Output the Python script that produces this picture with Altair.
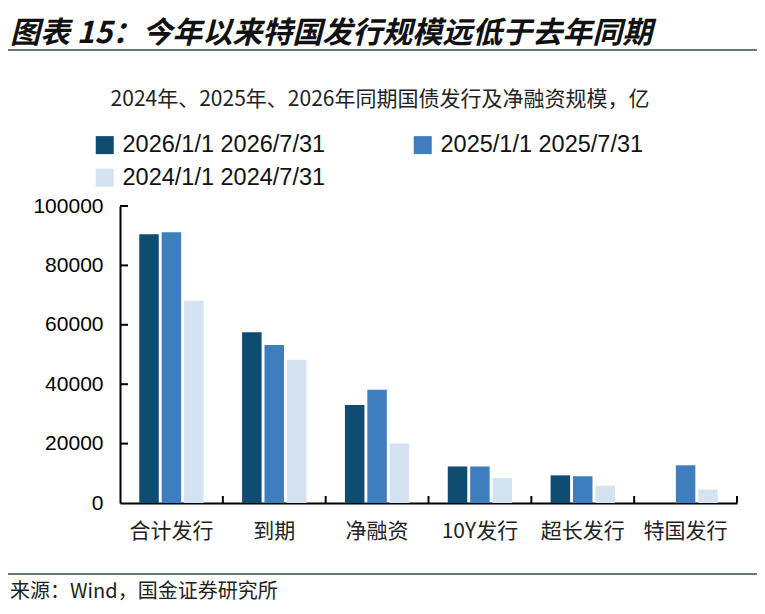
import altair as alt
import pandas as pd

categories = ["合计发行", "到期", "净融资", "10Y发行", "超长发行", "特国发行"]
series = ["2026/1/1 2026/7/31", "2025/1/1 2025/7/31", "2024/1/1 2024/7/31"]
values_2026 = [90500, 57500, 33000, 12300, 9300, 0]
values_2025 = [91200, 53200, 38100, 12300, 9000, 12700]
values_2024 = [68100, 48200, 20000, 8400, 5800, 4500]
y_ticks = [20000, 40000, 60000, 80000, 100000]
colors = ["#0f4c71", "#3e7ebf", "#d3e3f2"]

title_text = "图表 15：今年以来特国发行规模远低于去年同期"
subtitle_text = "2024年、2025年、2026年同期国债发行及净融资规模，亿"
source_text = "来源：Wind，国金证券研究所"

rows = []
for s, vals in zip(series, [values_2026, values_2025, values_2024]):
    for c, v in zip(categories, vals):
        rows.append({"cat": c, "series": s, "value": v})
df = pd.DataFrame(rows)

W, H = 617, 297
CJK = "Noto Sans CJK SC"
LAT = "Liberation Sans"

x_scale = alt.Scale(domain=categories, paddingInner=0, paddingOuter=0)
y_scale = alt.Scale(domain=[0, 100000], nice=False)

bars = alt.Chart(df).mark_bar().encode(
    x=alt.X("cat:N", sort=categories, scale=x_scale,
            axis=alt.Axis(title=None, labelAngle=0, labelFont=CJK, labelFontSize=21,
                          labelColor="#222222", domainColor="black", domainWidth=2,
                          ticks=False, tickSize=0, labelPadding=17, grid=False)),
    xOffset=alt.XOffset("series:N", sort=series,
                        scale=alt.Scale(domain=series, paddingInner=0.13, paddingOuter=0.86)),
    y=alt.Y("value:Q", scale=y_scale,
            axis=alt.Axis(title=None, values=[0] + y_ticks, labelFont=LAT, labelFontSize=21,
                          labelColor="black", domainColor="black", domainWidth=2,
                          ticks=False, tickSize=0, labelPadding=17, grid=False, format="d")),
    color=alt.Color("series:N", sort=series,
                    scale=alt.Scale(domain=series, range=colors),
                    legend=alt.Legend(orient="none", legendX=-27, legendY=-73, columns=2,
                                      direction="horizontal",
                                      symbolType="square", symbolSize=324, symbolStrokeWidth=0,
                                      labelFont=LAT, labelFontSize=23.5, labelOffset=6,
                                      labelLimit=400,
                                      columnPadding=85, rowPadding=8, title=None, padding=0,
                                      labelColor="#111111")),
)

ytick_df = pd.DataFrame({"value": y_ticks})
yticks = alt.Chart(ytick_df).mark_rule(color="black", strokeWidth=2).encode(
    y=alt.Y("value:Q", scale=y_scale),
    x=alt.value(0), x2=alt.value(8),
)

xtick_df = pd.DataFrame({"cat": categories})
xticks = alt.Chart(xtick_df).mark_rule(color="black", strokeWidth=2).encode(
    x=alt.X("cat:N", sort=categories, scale=x_scale, bandPosition=1),
    y=alt.value(H), y2=alt.value(H - 7),
)

title_mark = alt.Chart(pd.DataFrame({"t": [title_text]})).mark_text(
    font=CJK, fontSize=30, fontWeight="bold", fontStyle="italic", align="left",
    baseline="middle", color="#111111"
).encode(text="t:N", x=alt.value(-110), y=alt.value(-172))

sub_mark = alt.Chart(pd.DataFrame({"t": [subtitle_text]})).mark_text(
    font=CJK, fontSize=21, align="center", baseline="middle", color="#222222"
).encode(text="t:N", x=alt.value(260), y=alt.value(-106))

source_mark = alt.Chart(pd.DataFrame({"t": [source_text]})).mark_text(
    font=CJK, fontSize=20, align="left", baseline="middle", color="#222222"
).encode(text="t:N", x=alt.value(-110), y=alt.value(386))

line_df = pd.DataFrame({"k": [0]})
top_line = alt.Chart(line_df).mark_rule(color="#2f4a4c", strokeWidth=1.5).encode(
    x=alt.value(-112), x2=alt.value(637), y=alt.value(-156)
)
bottom_line = alt.Chart(line_df).mark_rule(color="#2f4a4c", strokeWidth=1.5).encode(
    x=alt.value(-112), x2=alt.value(637), y=alt.value(368)
)

chart = alt.layer(
    bars, yticks, xticks, title_mark, sub_mark, source_mark, top_line, bottom_line
).properties(
    width=W, height=H,
    autosize=alt.AutoSizeParams(type="none"),
    padding={"left": 112, "top": 198, "right": 20, "bottom": 103},
    background="white",
).configure_view(stroke=None)

chart.save("out.html", embed_options={"renderer": "svg", "actions": False})
